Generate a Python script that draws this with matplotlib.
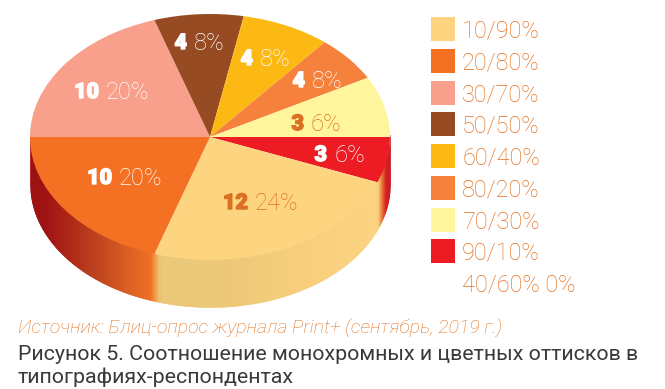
import matplotlib
matplotlib.use('Agg')
import matplotlib.pyplot as plt
import matplotlib.patheffects as pe
from matplotlib.colors import to_rgb
import numpy as np

# order of the wedges, clockwise from 3 o'clock
wedge_sizes = [6, 24, 20, 20, 8, 8, 6, 8]
wedge_colors = ['#ed1c24', '#fdd581', '#f47124', '#f9a08c', '#964b22', '#fdb913', '#f5813c', '#fff59d']
wedge_counts = ['3', '12', '10', '10', '4', '4', '4', '3']
wedge_shares = ['6%', '24%', '20%', '20%', '8%', '8%', '8%', '6%']

legend_labels = ['10/90%', '20/80%', '30/70%', '50/50%', '60/40%', '80/20%', '70/30%', '90/10%', '40/60% 0%']
legend_colors = ['#fdd581', '#f47124', '#f9a08c', '#964b22', '#fdb913', '#f5813c', '#fff59d', '#ed1c24', None]

# colours of the pie rim, left to right
rim_x = [-1.0, -0.92, -0.83, -0.61, -0.47, -0.33, -0.305, -0.285, -0.26, 0.1, 0.6, 0.92, 0.935, 0.95, 0.975, 1.0]
rim_c = ['#9c0f0f', '#9c0f0f', '#a81c12', '#c0431c', '#d9591f', '#ee6f22', '#f29a4a', '#ebc070', '#ebc878',
         '#edc876', '#f9cf7c', '#fcd47f', '#fbc878', '#ec8a3a', '#d81f20', '#c8141c']

W, H = 665, 389
TEXT_ORANGE = '#e3701f'
LABEL_ORANGE = '#db6f22'
DEPTH = 47 / 123
FONT = 'Roboto'

fig = plt.figure(figsize=(W / 100, H / 100), dpi=100)
page = fig.add_axes([0, 0, 1, 1])
page.set_xlim(0, W)
page.set_ylim(H, 0)
page.axis('off')

# pie axes: unit circle squashed on to the ellipse
ax = fig.add_axes([30 / W, 1 - 260 / H, 360 / W, 246 / H])
ax.set_xlim(-1, 1)
ax.set_ylim(-1, 1)
ax.axis('off')

xs = np.linspace(-1, 1, 721)
rgb = np.array([to_rgb(c) for c in rim_c])
for a, b in zip(xs[:-1], xs[1:]):
    mid = (a + b) / 2
    col = [np.interp(mid, rim_x, rgb[:, i]) for i in range(3)]
    seg = np.array([a, b])
    top = -np.sqrt(np.clip(1 - seg ** 2, 0, 1))
    ax.fill_between(seg, top + 0.02, top - DEPTH, color=col, lw=0.3, clip_on=False)

ax.pie(wedge_sizes, colors=wedge_colors, startangle=0, counterclock=False, radius=1,
       wedgeprops={'linewidth': 0})
ax.set_aspect('auto')
ax.set_xlim(-1, 1)
ax.set_ylim(-1, 1)

label_pos = [(334, 155), (255, 203), (119, 178), (106, 92), (194, 43), (260, 59), (312, 81), (311, 124)]
label_col = ['white', LABEL_ORANGE, 'white', 'white', 'white', 'white', 'white', LABEL_ORANGE]
for (x, y), n, p, c in zip(label_pos, wedge_counts, wedge_shares, label_col):
    page.text(x - 7, y, n, ha='right', va='center', fontsize=15.5, family=FONT, weight='black', color=c, zorder=5,
              path_effects=[pe.withStroke(linewidth=1.0, foreground=c)])
    page.text(x, y, p, ha='left', va='center', fontsize=17, family=FONT, weight='light', color=c, zorder=5)

page.set_zorder(3)
page.patch.set_alpha(0)

for i, (lab, c) in enumerate(zip(legend_labels, legend_colors)):
    y = 29 + i * 31.75
    if c:
        page.fill([431, 455, 455, 431], [y - 12, y - 12, y + 12, y + 12], color=c, lw=0)
    page.text(462, y + 2, lab, ha='left', va='center', fontsize=16.9, family=FONT, weight='light', color=TEXT_ORANGE)

page.text(18, 329, 'Источник: Блиц-опрос журнала Print+ (сентябрь, 2019 г.)', fontsize=14, style='italic',
          family=FONT, weight='light', color=TEXT_ORANGE, va='center')
page.text(18, 355, 'Рисунок 5. Соотношение монохромных и цветных оттисков в', fontsize=15.4,
          family=FONT, color='#3a3a3c', va='center')
page.text(18, 377, 'типографиях-респондентах', fontsize=15.4, family=FONT, color='#3a3a3c', va='center')

fig.savefig('out.png', dpi=100)
